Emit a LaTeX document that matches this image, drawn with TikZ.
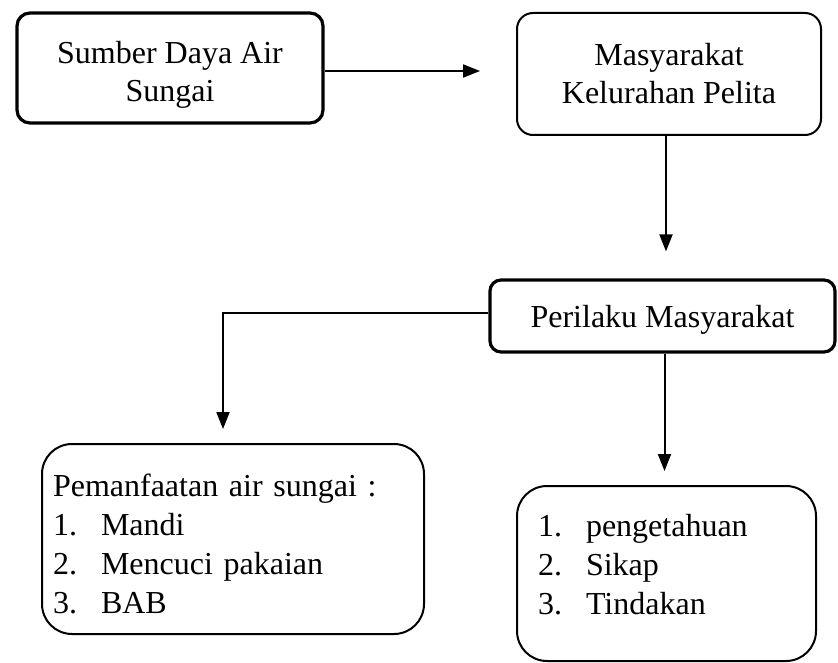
\documentclass[tikz,border=0pt]{standalone}
\usepackage{fontspec}
\setmainfont{Liberation Serif}
\usetikzlibrary{arrows.meta, positioning}
\tikzset{
  FBase/.style  = {draw, align=center, inner sep=0pt,
                   font=\fontsize{32}{38}\selectfont},
  FThick/.style = {FBase, rectangle, line width=3.2pt},
  FThin/.style  = {FBase, rectangle, line width=2pt},
  FList/.style  = {FThin, align=left, rounded corners=30pt,
                   font=\fontsize{32}{39}\selectfont},
  Link/.style   = {line width=2pt, -{Triangle[length=17pt, width=13pt]}},
}
\newcommand{\ListNo}[1]{\makebox[48pt][l]{#1}}

\begin{document}
\begin{tikzpicture}[x=1pt, y=-1pt]
  \useasboundingbox (0,0) rectangle (838,663);
  \node[FThick, rounded corners=13pt, minimum width=306pt, minimum height=110pt] (a) at (170,68)
    {\rule{0pt}{36pt}Sumber Daya Air\\Sungai};
  \node[FThin, rounded corners=16pt, minimum width=304pt, minimum height=122pt] (b) at (669,74)
    {Masyarakat\\Kelurahan Pelita};
  \node[FThick, rounded corners=11pt, minimum width=345pt, minimum height=72pt] (c) at (662.5,316)
    {\rule{0pt}{30pt}Perilaku Masyarakat};
  \node[FList, text width=360pt, inner xsep=11pt, minimum height=190pt] (d) at (233,539)
    {\rule{0pt}{32pt}Pemanfaatan air sungai :\\
     \ListNo{1.}Mandi\\
     \ListNo{2.}Mencuci pakaian\\
     \ListNo{3.}BAB};
  \node[FList, text width=257pt, inner xsep=21pt, minimum height=175pt] (e) at (666.5,573.5)
    {\ListNo{1.}pengetahuan\\
     \ListNo{2.}Sikap\\
     \ListNo{3.}Tindakan\rule[-18pt]{0pt}{18pt}};
  \draw[Link, shorten >=36pt] ([yshift=-3pt]a.east) -- ([yshift=-3pt]a.east -| b.west);
  \draw[Link, shorten >=27pt] ([xshift=-3pt]b.south) -- ([xshift=-3pt]b.south |- c.north);
  \draw[Link, shorten >=14pt] ([yshift=3pt]c.west) -| ([xshift=-10pt]d.north);
  \draw[Link, shorten >=14pt] ([xshift=2pt]c.south) -- ([xshift=2pt]c.south |- e.north);
\end{tikzpicture}
\end{document}
